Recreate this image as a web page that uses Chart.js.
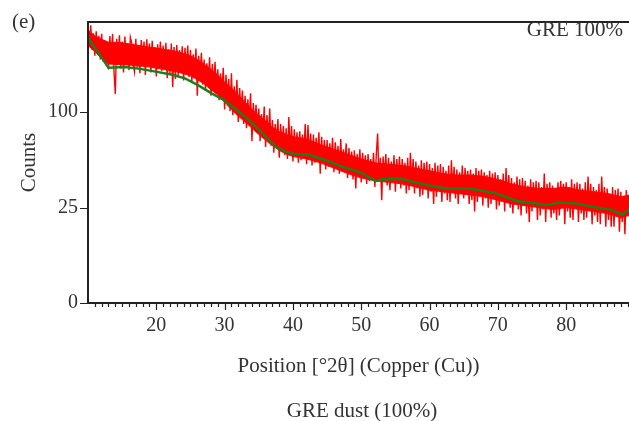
<!DOCTYPE html>
<html>
<head>
<meta charset="utf-8">
<title>GRE dust (100%)</title>
<script src="https://cdn.jsdelivr.net/npm/chart.js@4/dist/chart.umd.min.js"></script>
<style>
  html, body { margin: 0; padding: 0; background: #fff; }
  canvas { display: block; }
</style>
</head>
<body>
<canvas id="xrdChart" width="629" height="421"></canvas>
<script>
// XRD pattern, GRE dust 100% - sqrt count axis
const xMin = 10;
const xMax = 89.2;
const yMax = 217;
const yTicks = [0, 25, 100];
const xLabels = [20, 30, 40, 50, 60, 70, 80];

// measured pattern, one value every 0.2 deg from 10.0
const scanStart = 10;
const scanStep = 0.2;
const counts = [
    208, 182, 212, 176, 200,
    168, 203, 178, 196, 163,
    199, 160, 190, 155, 185,
    150, 196, 162, 199, 148,
    120, 192, 158, 197, 151,
    188, 146, 195, 160, 183,
    149, 194, 186, 156, 147,
    192, 152, 183, 145, 190,
    158, 188, 143, 191, 161,
    185, 146, 189, 155, 180,
    141, 184, 160, 188, 148,
    182, 150, 186, 139, 177,
    145, 185, 128, 180, 138,
    183, 142, 176, 150, 181,
    136, 179, 148, 182, 140,
    176, 133, 170, 145, 178,
    118, 168, 140, 172, 131,
    163, 124, 158, 133, 166,
    118, 157, 128, 160, 120,
    150, 113, 145, 121, 152,
    103, 143, 112, 138, 101,
    145, 97, 129, 105, 137,
    90, 127, 98, 124, 88,
    118, 84, 114, 92, 121,
    72, 110, 86, 108, 80,
    104, 72, 98, 79, 106,
    67, 97, 74, 104, 68,
    92, 62, 88, 70, 93,
    58, 88, 66, 86, 60,
    84, 57, 95, 63, 86,
    55, 83, 60, 80, 54,
    81, 56, 78, 61, 88,
    53, 87, 59, 79, 52,
    78, 54, 75, 58, 80,
    46, 76, 55, 73, 49,
    73, 51, 70, 54, 75,
    47, 71, 52, 68, 46,
    74, 48, 65, 50, 70,
    43, 66, 48, 63, 42,
    64, 36, 61, 46, 65,
    40, 62, 45, 60, 39,
    61, 41, 57, 43, 62,
    37, 60, 79, 42, 58,
    29, 59, 44, 61, 38,
    58, 35, 55, 41, 60,
    34, 57, 42, 59, 36,
    57, 38, 54, 33, 58,
    35, 62, 40, 57, 33,
    55, 36, 52, 31, 56,
    32, 54, 38, 55, 30,
    53, 34, 50, 27, 54,
    31, 52, 36, 53, 28,
    51, 33, 48, 29, 52,
    28, 56, 35, 51, 30,
    49, 27, 47, 33, 52,
    30, 50, 34, 48, 27,
    49, 29, 46, 23, 50,
    28, 48, 33, 49, 26,
    47, 30, 45, 25, 48,
    27, 46, 31, 47, 24,
    45, 26, 42, 30, 46,
    23, 50, 28, 45, 25,
    43, 22, 40, 27, 44,
    24, 42, 21, 43, 26,
    41, 22, 38, 18, 42,
    23, 40, 26, 41, 19,
    40, 21, 37, 24, 46,
    18, 39, 25, 40, 20,
    38, 22, 36, 19, 40,
    21, 41, 27, 39, 17,
    40, 23, 37, 20, 42,
    19, 39, 26, 40, 18,
    39, 22, 36, 19, 40,
    20, 44, 25, 39, 17,
    37, 21, 35, 18, 39,
    17, 44, 24, 37, 16,
    36, 19, 33, 16, 37,
    16, 35, 21, 36, 14,
    34, 18, 31, 13, 35,
    22
];

// dense core of the noise band (where the trace is solid red)
const bandPos = [10, 11, 12, 13, 15, 17, 19, 21, 23, 25, 26, 27, 28, 29, 30, 31, 32, 33, 34, 35, 36, 37, 38, 39, 40, 42, 44, 46, 48, 50, 52, 54, 56, 58, 60, 62, 64, 66, 68, 70, 72, 74, 76, 78, 80, 82, 84, 86, 88, 89.2];
const bandHigh = [205, 196, 191, 187, 186, 183, 180, 177, 174, 168, 163, 157, 150, 143, 134, 127, 119, 111, 103, 97, 91, 85, 81, 78, 76, 74, 69, 65, 61, 57, 54, 53, 52, 50, 48, 46, 45, 45, 44, 42, 39, 37, 36, 36, 37, 35, 34, 33, 31, 32];
const bandLow = [182, 174, 164, 157, 156, 155, 153, 150, 147, 142, 137, 132, 125, 119, 111, 103, 96, 90, 84, 78, 73, 68, 64, 61, 59, 57, 54, 50, 46, 43, 41, 40, 39, 37, 35, 34, 33, 32, 31, 29, 27, 26, 25, 24, 25, 24, 23, 22, 20, 21];

// fitted background
const bgPos = [10.0, 13.0, 15.4, 17.4, 19.3, 22.2, 24.2, 26.1, 28.1, 29.8, 31.8, 33.6, 35.6, 37.5, 38.8, 40.0, 42.4, 44.8, 47.3, 50.0, 52.1, 52.8, 55.8, 58.2, 59.7, 62.6, 66.0, 69.5, 72.8, 77.1, 79.1, 81.5, 83.7, 86.6, 88.2, 89.2];
const bgCounts = [194, 152, 153, 151, 148, 143.5, 138.6, 130.4, 120.8, 113.5, 102.4, 92, 78.7, 67, 63.2, 61.3, 60.2, 56, 51, 46.6, 40.8, 41.9, 42.4, 39.7, 38.2, 35.9, 35.9, 33.3, 28.6, 26.4, 27.7, 27.3, 25.5, 23.8, 21.5, 24];

const SERIF = "'Liberation Serif', 'Times New Roman', serif";
const TEXT = '#333';
const AXIS = '#222';
const RED = '#ff0000';

class SqrtScale extends Chart.LinearScale {
    getPixelForValue(value) {
        const lo = Math.sqrt(this.min), hi = Math.sqrt(this.max);
        return this.getPixelForDecimal((Math.sqrt(Math.max(value, 0)) - lo) / (hi - lo));
    }
    getValueForPixel(pixel) {
        const lo = Math.sqrt(this.min), hi = Math.sqrt(this.max);
        const s = lo + this.getDecimalForPixel(pixel) * (hi - lo);
        return s * s;
    }
}
SqrtScale.id = 'sqrt';
SqrtScale.defaults = {};
Chart.register(SqrtScale);

// axis lines, tick marks and free text
const framePlugin = {
    id: 'frame',
    afterDraw(chart) {
        const ctx = chart.ctx;
        const a = chart.chartArea;
        const xs = chart.scales.x;
        const ys = chart.scales.y;
        ctx.save();
        ctx.strokeStyle = AXIS;
        ctx.lineWidth = 2;
        ctx.beginPath();
        ctx.moveTo(a.left, a.top - 1);
        ctx.lineTo(a.left, a.bottom);
        ctx.lineTo(a.right, a.bottom);
        ctx.moveTo(a.left - 1, a.top);
        ctx.lineTo(a.right, a.top);
        ctx.stroke();

        ctx.lineWidth = 1.2;
        ctx.beginPath();
        for (let d = Math.ceil(xMin) + 1; d <= xMax; d++) {
            const px = Math.round(xs.getPixelForValue(d)) + 0.5;
            const len = d % 10 === 0 ? 7 : 4;
            ctx.moveTo(px, a.bottom);
            ctx.lineTo(px, a.bottom + len);
        }
        yTicks.forEach(v => {
            const py = Math.round(ys.getPixelForValue(v)) + 0.5;
            ctx.moveTo(a.left - 8, py);
            ctx.lineTo(a.left, py);
        });
        ctx.stroke();

        ctx.fillStyle = TEXT;
        ctx.font = '21px ' + SERIF;
        ctx.textBaseline = 'alphabetic';
        ctx.textAlign = 'left';
        ctx.fillText('(e)', 12, 28);
        ctx.textAlign = 'right';
        ctx.fillText('GRE 100%', 623, 36);
        ctx.textAlign = 'center';
        ctx.fillText('GRE dust (100%)', 362, 417);
        ctx.restore();
    }
};

new Chart(document.getElementById('xrdChart'), {
    type: 'line',
    data: {
        datasets: [{
            label: 'Background',
            data: bgPos.map((p, i) => ({ x: p, y: bgCounts[i] })),
            borderColor: '#17801a',
            borderWidth: 2.4,
            pointRadius: 0,
            tension: 0,
            order: 0
        }, {
            label: 'GRE 100%',
            data: counts.map((c, i) => ({ x: scanStart + i * scanStep, y: c })),
            borderColor: RED,
            borderWidth: 1.4,
            pointRadius: 0,
            tension: 0,
            order: 1
        }, {
            label: 'band high',
            data: bandPos.map((p, i) => ({ x: p, y: bandHigh[i] })),
            borderColor: RED,
            borderWidth: 1,
            backgroundColor: RED,
            fill: '+1',
            pointRadius: 0,
            tension: 0,
            order: 2
        }, {
            label: 'band low',
            data: bandPos.map((p, i) => ({ x: p, y: bandLow[i] })),
            borderColor: RED,
            borderWidth: 1,
            pointRadius: 0,
            tension: 0,
            order: 3
        }]
    },
    options: {
        responsive: false,
        animation: false,
        devicePixelRatio: 1,
        layout: { padding: { top: 18, right: 0, left: 0, bottom: 0 } },
        plugins: {
            legend: { display: false },
            tooltip: { enabled: false },
            title: { display: false }
        },
        scales: {
            x: {
                type: 'linear',
                min: xMin,
                max: xMax,
                afterBuildTicks: s => { s.ticks = xLabels.map(v => ({ value: v })); },
                afterFit: s => { s.height = 118; },
                grid: { display: false, drawTicks: false },
                border: { display: false },
                ticks: {
                    autoSkip: false,
                    maxRotation: 0,
                    padding: 11,
                    color: TEXT,
                    font: { family: SERIF, size: 20 }
                },
                title: {
                    display: true,
                    text: 'Position [°2θ] (Copper (Cu))',
                    color: TEXT,
                    font: { family: SERIF, size: 21 },
                    padding: { top: 0, bottom: 42 }
                }
            },
            y: {
                type: 'sqrt',
                min: 0,
                max: yMax,
                afterBuildTicks: s => { s.ticks = yTicks.map(v => ({ value: v })); },
                afterFit: s => { s.width = 88; },
                grid: { display: false, drawTicks: false },
                border: { display: false },
                ticks: {
                    padding: 10,
                    color: TEXT,
                    font: { family: SERIF, size: 20 }
                },
                title: {
                    display: true,
                    text: 'Counts',
                    color: TEXT,
                    font: { family: SERIF, size: 21 },
                    padding: { top: 17, bottom: 0 }
                }
            }
        }
    },
    plugins: [framePlugin]
});
</script>
</body>
</html>
